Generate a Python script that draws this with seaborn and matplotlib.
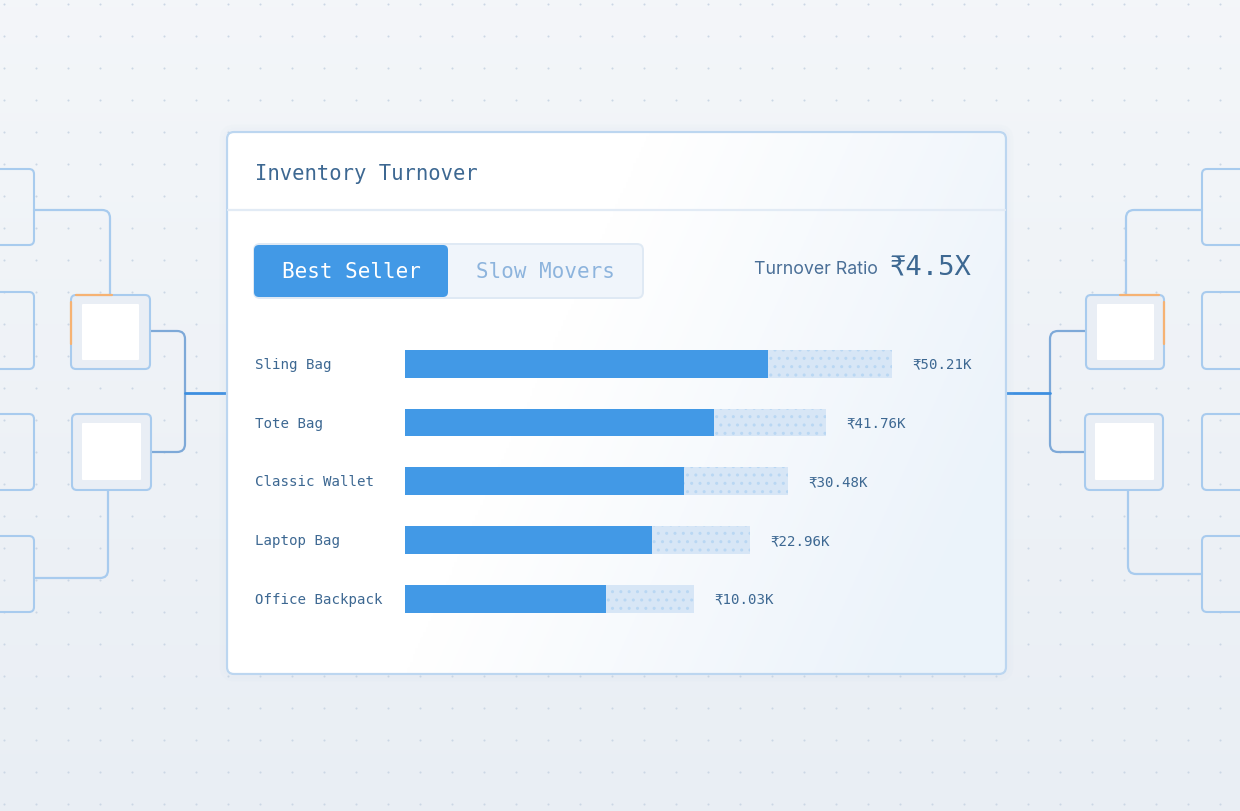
import numpy as np
import pandas as pd
import matplotlib.pyplot as plt
import seaborn as sns
from matplotlib.patches import FancyBboxPatch
from matplotlib.path import Path
from matplotlib.patches import PathPatch

sns.set_theme(style="white")
plt.rcParams['font.family'] = ['DejaVu Sans Mono', 'DejaVu Sans']

# data
products = ["Sling Bag", "Tote Bag", "Classic Wallet", "Laptop Bag", "Office Backpack"]
sold = [74.5, 63.4, 57.3, 50.7, 41.3]        # filled part of each bar
capacity = [100, 86.4, 78.6, 70.8, 59.3]     # light track behind it
value_labels = ["₹50.21K", "₹41.76K", "₹30.48K", "₹22.96K", "₹10.03K"]
tabs = ["Best Seller", "Slow Movers"]
ratio_label = "Turnover Ratio"
ratio_value = "₹4.5X"
title = "Inventory Turnover"

BLUE = "#4299e6"
TRACK = "#d7e6f6"
TEXT = "#3d6892"
LINE = "#a8cbee"
LINE_DARK = "#7ea9d8"
BG = "#eef2f7"

W, H = 1240, 812
fig = plt.figure(figsize=(12.4, 8.12), dpi=100)
fig.patch.set_facecolor(BG)

bg = fig.add_axes([0, 0, 1, 1])
bg.set_xlim(0, W)
bg.set_ylim(H, 0)
bg.axis("off")

# soft vertical gradient of the page
grad = np.linspace(0, 1, 200)[:, None]
top = np.array([0.955, 0.965, 0.978])
bot = np.array([0.915, 0.935, 0.958])
img = top + (bot - top) * grad[..., None]
bg.imshow(np.repeat(img, 2, axis=1), extent=[0, W, H, 0], aspect="auto", zorder=0)

# dotted grid
gx, gy = np.meshgrid(np.arange(4, W, 32), np.arange(5, H, 32))
bg.scatter(gx.ravel(), gy.ravel(), s=2.2, color="#cbd7e5", linewidths=0, zorder=1)


def rbox(ax, x0, y0, x1, y1, r, fc, ec, lw=1.5, z=2, alpha=1):
    p = FancyBboxPatch((x0, y0), x1 - x0, y1 - y0,
                       boxstyle=f"round,pad=0,rounding_size={r}",
                       fc=fc, ec=ec, lw=lw, zorder=z, alpha=alpha)
    ax.add_patch(p)
    return p


def elbow(ax, pts, color, lw=1.6, r=8, z=2):
    verts = [pts[0]]
    codes = [Path.MOVETO]
    for i in range(1, len(pts) - 1):
        p0, p1, p2 = (np.array(pts[i - 1], float), np.array(pts[i], float),
                      np.array(pts[i + 1], float))
        d0 = (p1 - p0) / np.linalg.norm(p1 - p0)
        d1 = (p2 - p1) / np.linalg.norm(p2 - p1)
        verts += [tuple(p1 - r * d0), tuple(p1), tuple(p1 + r * d1)]
        codes += [Path.LINETO, Path.CURVE3, Path.CURVE3]
    verts.append(pts[-1])
    codes.append(Path.LINETO)
    ax.add_patch(PathPatch(Path(verts, codes), fc="none", ec=color, lw=lw,
                           zorder=z, capstyle="round"))


# bracket decorations, left and right
rows = [(170, 246), (293, 370), (415, 491), (537, 613)]
for y0, y1 in rows:
    rbox(bg, -20, y0, 34, y1, 5, "none", LINE)
    rbox(bg, 1202, y0, 1262, y1, 5, "none", LINE)

mid = [((71, 296, 150, 370), (82, 305, 139, 361)),
       ((72, 415, 151, 491), (82, 424, 141, 481)),
       ((1086, 296, 1164, 370), (1097, 305, 1154, 361)),
       ((1085, 415, 1163, 491), (1095, 424, 1154, 481))]
for (a, b, c, d), (e, f, g, h) in mid:
    rbox(bg, a, b, c, d, 5, "#e9eef5", LINE, z=3)
    rbox(bg, e, f, g, h, 1, "white", "none", lw=0, z=4)

# orange accents on the highlighted boxes
bg.plot([71, 71], [345, 303], color="#f6b273", lw=1.6, zorder=5, solid_capstyle="round")
bg.plot([76, 112], [296, 296], color="#f6b273", lw=1.6, zorder=5, solid_capstyle="round")
bg.plot([1164, 1164], [345, 303], color="#f6b273", lw=1.6, zorder=5, solid_capstyle="round")
bg.plot([1120, 1159], [296, 296], color="#f6b273", lw=1.6, zorder=5, solid_capstyle="round")

elbow(bg, [(34, 211), (110, 211), (110, 296)], LINE)
elbow(bg, [(34, 579), (108, 579), (108, 491)], LINE)
elbow(bg, [(150, 332), (185, 332), (185, 453), (151, 453)], LINE_DARK)
bg.plot([185, 228], [394, 394], color="#3d8fe0", lw=2, zorder=2)

elbow(bg, [(1202, 211), (1126, 211), (1126, 296)], LINE)
elbow(bg, [(1202, 575), (1128, 575), (1128, 491)], LINE)
elbow(bg, [(1086, 332), (1050, 332), (1050, 453), (1085, 453)], LINE_DARK)
bg.plot([1005, 1050], [394, 394], color="#3d8fe0", lw=2, zorder=2)

# card with shadow and soft gradient
for k, a in [(6, 0.05), (3, 0.08)]:
    rbox(bg, 227 - k, 133 - k, 1006 + k, 675 + k, 8 + k, "none", "#b8cde3",
         lw=2, z=5, alpha=a)
card = rbox(bg, 227, 133, 1006, 675, 7, "white", "none", lw=0, z=6)
xx, yy = np.meshgrid(np.linspace(0, 1, 300), np.linspace(0, 1, 200))
t = np.clip((xx - 0.45) * 1.6 + (yy - 0.3) * 0.5, 0, 1)
cimg = np.ones((200, 300, 3)) + t[..., None] * (np.array([0.925, 0.953, 0.982]) - 1)
im = bg.imshow(cimg, extent=[227, 1006, 675, 133], aspect="auto", zorder=7)
im.set_clip_path(card)
rbox(bg, 227, 133, 1006, 675, 7, "none", "#bcd6f0", lw=1.6, z=8)
bg.plot([228, 1005], [211, 211], color="#e2ebf5", lw=1.6, zorder=8)

bg.text(255, 174, title, fontsize=14.8, color=TEXT, va="center", ha="left", zorder=9)

# toggle
rbox(bg, 254, 245, 643, 299, 6, "#f0f5fb", "#dfe9f4", lw=1.4, z=8)
rbox(bg, 254, 246, 448, 298, 5, BLUE, "none", lw=0, z=9)
bg.text(351, 272, tabs[0], fontsize=15, color="white", ha="center", va="center", zorder=10)
bg.text(545, 272, tabs[1], fontsize=15, color="#8db4dd", ha="center", va="center", zorder=10)

bg.text(878, 270, ratio_label, fontsize=12.8, color="#4a6f97", ha="right", va="center",
        family=["Inter", "DejaVu Sans"], zorder=10)
bg.text(890, 268, ratio_value, fontsize=19.5, color=TEXT, ha="left", va="center", zorder=10)

# bar chart
df = pd.DataFrame({"product": products, "sold": sold, "capacity": capacity})
row_h = 58.75
first = 364.8
ax_top = first - row_h / 2
ax_h = row_h * len(products)
ax = fig.add_axes([405 / W, 1 - (ax_top + ax_h) / H, 487 / W, ax_h / H], zorder=5)

sns.barplot(data=df, y="product", x="capacity", orient="h", color=TRACK, saturation=1,
            width=0.47, ax=ax, edgecolor="#b9d7f3", linewidth=0, hatch="..")
sns.barplot(data=df, y="product", x="sold", orient="h", color=BLUE, saturation=1,
            width=0.47, ax=ax, linewidth=0)
ax.set_xlim(0, 100)
ax.set_ylim(len(products) - 0.5, -0.5)
ax.axis("off")

for i, (name, cap, lab) in enumerate(zip(products, capacity, value_labels)):
    ax.text((255 - 405) / 487, i, name, transform=ax.get_yaxis_transform(),
            fontsize=10.2, color=TEXT, ha="left", va="center")
    ax.annotate(lab, (cap, i), xytext=(14.5, 0), textcoords="offset points",
                fontsize=10.2, color=TEXT, ha="left", va="center")

plt.rcParams['hatch.linewidth'] = 1.0
fig.savefig("out.png", dpi=100, facecolor=BG)
